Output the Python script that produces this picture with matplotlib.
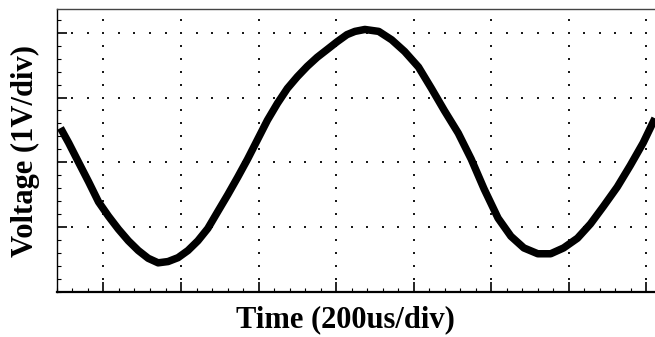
import matplotlib.pyplot as plt
import numpy as np

# oscilloscope trace
# time in divisions (200 us/div), voltage in divisions (1 V/div)
time_div = [0.445, 0.551, 0.679, 0.808, 0.936, 1.064, 1.192, 1.321, 1.449, 1.577,
            1.705, 1.833, 1.962, 2.090, 2.218, 2.346, 2.474, 2.603, 2.731, 2.859,
            2.987, 3.115, 3.244, 3.372, 3.500, 3.628, 3.756, 3.885, 4.013, 4.141,
            4.244, 4.372, 4.551, 4.718, 4.885, 5.064, 5.231, 5.397, 5.577, 5.744,
            5.910, 6.090, 6.256, 6.423, 6.603, 6.769, 6.936, 7.115, 7.282, 7.449,
            7.628, 7.795, 7.962, 8.115]
volt_div = [0.53, 0.30, 0.00, -0.30, -0.61, -0.83, -1.03, -1.21, -1.36, -1.48,
            -1.55, -1.53, -1.47, -1.36, -1.21, -1.02, -0.76, -0.50, -0.23, 0.05,
            0.35, 0.65, 0.91, 1.14, 1.32, 1.48, 1.62, 1.74, 1.86, 1.97,
            2.02, 2.05, 2.02, 1.89, 1.71, 1.47, 1.14, 0.80, 0.45, 0.05,
            -0.41, -0.86, -1.14, -1.32, -1.41, -1.41, -1.32, -1.17, -0.95, -0.68,
            -0.38, -0.05, 0.30, 0.68]

x_grid = [1, 2, 3, 4, 5, 6, 7, 8]
y_grid = [-1, 0, 1, 2]
x_range = (0.44, 8.115)
y_range = (-1.924, 2.364)

fig = plt.figure(figsize=(6.55, 3.37), dpi=100)
ax = fig.add_axes([0.087, 0.1335, 0.913, 0.8395])

# dotted graticule
minor_x = np.arange(0.4, 8.2, 0.2)
minor_y = np.arange(-2.0, 2.4, 0.2)
for gx in x_grid:
    ax.plot(np.full_like(minor_y, gx), minor_y, 's', color='#1a1a1a', ms=1.9, mew=0)
for gy in y_grid:
    ax.plot(minor_x, np.full_like(minor_x, gy), 's', color='#1a1a1a', ms=1.9, mew=0)

# the trace
ax.plot(time_div, volt_div, '-', color='black', linewidth=5.4,
        solid_capstyle='butt', solid_joinstyle='round')

ax.set_xlim(x_range)
ax.set_ylim(y_range)

ax.spines['right'].set_visible(False)
ax.spines['top'].set_color('#444444')
ax.spines['top'].set_linewidth(1.0)
ax.spines['left'].set_linewidth(1.0)
ax.spines['bottom'].set_linewidth(1.6)

ax.set_xticks(x_grid)
ax.set_yticks(y_grid)
ax.set_xticks(minor_x, minor=True)
ax.set_yticks(minor_y, minor=True)
ax.tick_params(which='both', direction='in', labelbottom=False, labelleft=False,
               top=False, right=False)
ax.tick_params(which='major', length=7, width=1.2)
ax.tick_params(which='minor', length=3, width=0.8)

font = dict(family='Liberation Serif', fontweight='bold', fontsize=22)
ax.set_xlabel('Time (200us/div)', **font)
ax.set_ylabel('Voltage (1V/div)', labelpad=12, **font)
ax.xaxis.set_label_coords(0.482, -0.045)

fig.savefig('out.png', dpi=100)
